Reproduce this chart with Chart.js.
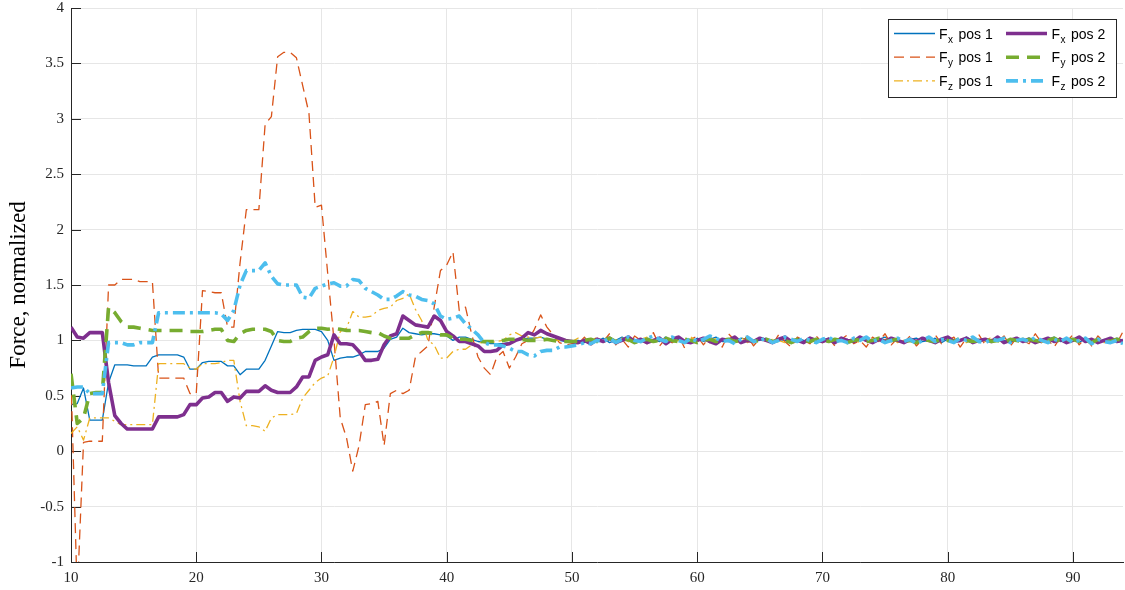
<!DOCTYPE html>
<html>
<head>
<meta charset="utf-8">
<script src="https://cdn.jsdelivr.net/npm/chart.js@4.4.0/dist/chart.umd.min.js"></script>
<style>
  html, body { margin: 0; padding: 0; background: #fff; }
  #wrap { width: 1125px; height: 590px; }
</style>
</head>
<body>
<div id="wrap"><canvas id="forceChart" width="1125" height="590"></canvas></div>
<script>
// Sampling grid (seconds): 10 s to 94 s every 0.5 s
const timeStart = 10;
const timeStep = 0.5;
const sampleCount = 169;
const time = Array.from({ length: sampleCount }, (_, i) => timeStart + i * timeStep);

// Normalized force components, position 1
const fxPos1 = [
  0.42,0.43,0.57,0.28,0.28,0.28,0.62,0.78,0.78,0.78,
  0.77,0.77,0.77,0.85,0.87,0.87,0.87,0.87,0.85,0.74,
  0.74,0.80,0.81,0.81,0.81,0.77,0.77,0.69,0.74,0.74,
  0.74,0.82,0.95,1.08,1.07,1.07,1.09,1.10,1.10,1.10,
  1.08,1.00,0.82,0.84,0.85,0.85,0.87,0.90,0.90,0.90,
  0.93,1.01,1.03,1.11,1.07,1.06,1.05,1.06,1.06,1.05,
  1.04,1.00,1.03,1.03,1.01,0.99,0.98,0.97,0.97,0.97,
  0.98,1.00,1.01,1.02,1.02,1.03,1.01,1.00,1.00,0.99,
  0.99,
  1.00,0.98,1.01,0.99,1.02,0.98,1.00,1.03,0.99,1.01,
  0.98,1.02,1.00,0.99,1.03,0.98,1.01,1.00,0.98,1.02,
  0.99,1.01,1.03,0.99,1.00,0.98,1.02,1.01,0.99,1.00,
  1.02,0.98,1.01,1.00,0.99,1.02,1.00,0.98,1.01,1.00,
  1.02,0.99,1.00,1.01,0.98,1.02,1.00,0.99,1.01,1.03,
  0.99,1.00,0.98,1.01,1.02,0.99,1.00,1.02,0.98,1.01,
  1.00,0.99,1.03,1.00,0.98,1.01,0.99,1.02,1.00,0.98,
  1.01,1.00,1.02,0.99,0.98,1.01,1.03,0.99,1.00,1.01,
  0.98,1.02,1.00,0.99,1.01,0.98,1.02,1.00
];
const fyPos1 = [
  0.65,-1.30,0.08,0.09,0.09,0.09,1.50,1.50,1.55,1.55,
  1.55,1.53,1.53,1.53,0.66,0.66,0.66,0.66,0.66,0.52,
  0.52,1.45,1.44,1.43,1.43,1.12,1.12,1.70,2.18,2.18,
  2.18,2.95,3.02,3.56,3.60,3.60,3.55,3.30,3.05,2.20,
  2.22,1.60,1.00,0.30,0.12,-0.18,0.05,0.42,0.43,0.45,
  0.05,0.52,0.55,0.52,0.55,0.85,0.90,0.95,1.30,1.63,
  1.68,1.80,1.27,1.30,1.05,0.85,0.75,0.69,0.85,0.90,
  0.75,0.85,0.97,1.00,1.10,1.23,1.12,1.05,0.98,0.96,
  0.97,
  0.97,1.03,0.95,1.02,0.99,1.06,0.96,1.01,0.94,1.04,
  1.00,0.97,1.07,0.95,1.02,0.98,1.05,0.93,1.01,1.04,
  0.96,1.03,0.99,0.94,1.06,1.00,0.97,1.04,0.95,1.02,
  1.01,0.96,1.05,0.99,0.94,1.03,1.00,0.97,1.04,0.98,
  1.02,0.95,1.01,1.05,0.97,1.00,0.94,1.03,0.99,1.06,
  0.96,1.02,0.98,1.04,0.95,1.01,0.99,1.05,0.97,1.00,
  1.03,0.94,1.02,0.98,1.05,0.96,1.01,0.99,1.04,0.95,
  1.02,1.00,0.97,1.06,0.98,1.01,0.94,1.03,0.99,1.05,
  0.96,1.02,0.95,1.04,0.98,1.01,0.97,1.08
];
const fzPos1 = [
  0.16,0.22,0.10,0.30,0.30,0.30,0.30,0.27,0.24,0.24,
  0.24,0.24,0.24,0.24,0.79,0.79,0.79,0.79,0.79,0.75,
  0.74,0.79,0.79,0.79,0.80,0.82,0.82,0.45,0.23,0.23,
  0.22,0.18,0.30,0.33,0.33,0.33,0.34,0.48,0.55,0.62,
  0.66,0.68,0.85,1.08,1.11,1.26,1.21,1.21,1.22,1.27,
  1.29,1.30,1.36,1.38,1.42,1.28,1.18,1.00,0.96,0.84,
  0.84,0.90,0.92,0.92,0.96,0.98,0.98,0.98,0.99,1.00,
  1.05,1.07,1.04,1.03,1.02,1.03,1.01,1.00,1.00,0.99,
  0.99,
  1.02,1.00,0.99,1.03,0.98,1.01,1.00,1.02,0.99,0.98,
  1.01,1.03,0.99,1.00,1.02,0.98,1.00,1.01,1.03,0.99,
  1.00,0.98,1.02,1.00,1.01,0.99,1.03,0.98,1.00,1.02,
  0.99,1.01,1.00,0.98,1.02,1.01,0.99,1.03,1.00,0.98,
  1.01,1.00,1.02,0.99,1.01,0.98,1.03,1.00,0.99,1.01,
  1.02,0.98,1.00,1.01,0.99,1.03,1.00,0.98,1.02,0.99,
  1.01,1.00,0.98,1.02,1.01,0.99,1.03,1.00,0.98,1.01,
  0.99,1.02,1.00,1.01,0.98,1.00,1.02,0.99,1.01,1.00,
  1.03,0.99,1.00,1.02,0.98,1.01,1.00,0.99
];

// Normalized force components, position 2
const fxPos2 = [
  1.12,1.03,1.02,1.07,1.07,1.07,0.62,0.32,0.25,0.20,
  0.20,0.20,0.20,0.20,0.31,0.31,0.31,0.31,0.33,0.42,
  0.42,0.48,0.49,0.53,0.53,0.45,0.49,0.48,0.54,0.54,
  0.54,0.59,0.55,0.53,0.53,0.53,0.58,0.67,0.67,0.82,
  0.85,0.87,1.05,0.97,0.97,0.96,0.90,0.82,0.82,0.83,
  0.96,1.04,1.06,1.22,1.18,1.14,1.13,1.12,1.22,1.18,
  1.08,1.04,0.99,0.99,0.97,0.95,0.90,0.90,0.91,0.96,
  0.97,1.00,1.02,1.07,1.05,1.09,1.06,1.04,1.02,1.00,
  0.99,
  0.98,1.00,0.97,1.01,0.99,1.02,0.98,1.00,1.03,0.99,
  1.01,0.98,1.00,1.02,0.97,1.01,1.03,0.99,0.98,1.00,
  1.02,0.99,0.97,1.01,1.00,1.03,0.98,1.00,0.99,1.02,
  1.00,0.98,1.01,1.03,0.99,1.00,0.98,1.02,1.00,0.99,
  1.01,0.98,1.02,1.00,0.99,1.03,1.00,0.98,1.01,0.99,
  1.02,1.00,0.98,1.01,0.99,1.02,1.00,0.98,1.01,1.03,
  0.99,1.00,1.02,0.98,1.00,1.01,0.99,1.03,0.98,1.00,
  1.02,0.99,1.01,0.98,1.00,1.02,0.99,1.01,0.98,1.00,
  1.03,0.99,1.01,0.98,1.00,1.02,0.99,1.00
];
const fyPos2 = [
  0.70,0.25,0.30,0.52,0.53,0.53,1.30,1.25,1.17,1.12,
  1.12,1.11,1.10,1.09,1.09,1.09,1.09,1.09,1.09,1.08,
  1.08,1.08,1.09,1.10,1.10,1.00,0.99,1.06,1.09,1.10,
  1.10,1.10,1.08,1.00,0.99,0.99,1.02,1.03,1.08,1.11,
  1.11,1.10,1.11,1.10,1.09,1.09,1.09,1.08,1.07,1.07,
  1.04,1.02,1.02,1.02,1.02,1.05,1.07,1.07,1.06,1.05,
  1.05,1.02,1.01,1.01,1.00,0.99,0.99,0.99,0.99,1.00,
  1.01,1.01,1.01,1.00,1.00,1.00,1.01,1.00,0.99,0.99,
  0.99,
  0.99,1.00,1.01,0.99,1.00,1.02,0.99,1.00,1.01,0.98,
  1.00,1.01,0.99,1.00,1.02,1.00,0.99,1.01,1.00,0.98,
  1.00,1.01,0.99,1.00,1.01,0.99,1.00,1.02,0.99,1.00,
  1.01,0.99,1.00,1.00,0.98,1.01,1.00,0.99,1.01,1.00,
  0.99,1.01,1.00,0.98,1.00,1.01,0.99,1.00,1.02,0.99,
  1.00,1.01,0.99,1.00,0.98,1.01,1.00,0.99,1.01,1.00,
  0.99,1.02,1.00,0.99,1.00,1.01,0.99,1.00,0.98,1.01,
  1.00,0.99,1.01,1.00,0.99,1.00,1.02,0.99,1.00,1.01,
  0.99,1.00,0.98,1.01,1.00,0.99,1.01,1.00
];
const fzPos2 = [
  0.57,0.58,0.58,0.52,0.52,0.52,0.98,0.98,0.98,0.96,
  0.96,0.98,0.98,0.98,1.25,1.25,1.25,1.25,1.25,1.25,
  1.25,1.25,1.25,1.25,1.24,1.18,1.27,1.50,1.63,1.63,
  1.63,1.70,1.58,1.51,1.50,1.50,1.50,1.39,1.38,1.47,
  1.49,1.51,1.52,1.49,1.49,1.55,1.54,1.47,1.44,1.41,
  1.37,1.37,1.40,1.44,1.41,1.40,1.37,1.36,1.33,1.22,
  1.19,1.20,1.22,1.15,1.10,1.05,0.98,0.96,0.96,0.95,
  0.93,0.90,0.90,0.87,0.86,0.90,0.91,0.91,0.94,0.94,
  0.95,
  0.96,0.98,0.97,1.00,0.99,1.02,0.98,1.01,1.03,1.00,
  0.99,1.02,1.04,1.01,0.99,1.03,1.00,0.98,1.02,0.99,
  1.01,1.04,1.02,0.99,1.00,0.97,1.01,1.03,0.99,1.00,
  1.02,0.98,1.00,1.03,1.01,0.99,1.02,1.00,0.98,1.01,
  1.03,0.99,1.00,0.98,1.02,1.00,1.03,0.99,1.01,0.98,
  1.00,1.02,0.99,1.01,0.97,1.00,1.03,0.99,1.01,1.00,
  0.98,1.02,1.00,1.03,0.99,0.98,1.01,1.00,1.02,0.98,
  1.00,1.01,0.99,1.03,1.00,0.98,1.01,0.99,1.02,0.98,
  1.00,1.02,0.97,1.01,0.99,0.98,1.00,0.97
];

// Axis ranges and ticks
const xRange = [10, 94];
const yRange = [-1, 4];
const xTickStep = 10;
const yTickStep = 0.5;
const yAxisTitle = 'Force, normalized';

// Legend entries: component subscript and position label
const componentNames = ['x', 'y', 'z', 'x', 'y', 'z'];
const positionNames = ['pos 1', 'pos 1', 'pos 1', 'pos 2', 'pos 2', 'pos 2'];
const seriesValues = [fxPos1, fyPos1, fzPos1, fxPos2, fyPos2, fzPos2];

// Line styles for each series
const seriesStyles = [
  { color: '#0072BD', width: 1.3, dash: [] },
  { color: '#D95319', width: 1.3, dash: [10, 6] },
  { color: '#EDB120', width: 1.3, dash: [9, 4, 2, 4] },
  { color: '#7E2F8E', width: 3.6, dash: [] },
  { color: '#77AC30', width: 3.6, dash: [13, 8] },
  { color: '#4DBEEE', width: 3.6, dash: [12, 5, 3, 5] }
];

const datasets = seriesValues.map((vals, i) => ({
  label: 'F' + componentNames[i] + ' ' + positionNames[i],
  data: vals.map((v, k) => ({ x: time[k], y: v })),
  borderColor: seriesStyles[i].color,
  borderWidth: seriesStyles[i].width,
  borderDash: seriesStyles[i].dash,
  borderJoinStyle: 'round',
  borderCapStyle: 'butt',
  pointRadius: 0,
  tension: 0,
  fill: false,
  order: seriesValues.length - i
}));

const axisColor = '#262626';
const gridColor = '#e6e6e6';
const serifFont = '"Liberation Serif", "DejaVu Serif", serif';
const sansFont = '"Liberation Sans", Arial, sans-serif';

// Tick marks pointing into the plot, MATLAB style
const innerTicks = {
  id: 'innerTicks',
  beforeDatasetsDraw(chart) {
    const { ctx, chartArea: a, scales: { x, y } } = chart;
    const len = 10;
    ctx.save();
    ctx.strokeStyle = axisColor;
    ctx.lineWidth = 1;
    x.ticks.forEach(t => {
      const px = Math.round(x.getPixelForValue(t.value)) + 0.5;
      ctx.beginPath(); ctx.moveTo(px, a.bottom); ctx.lineTo(px, a.bottom - len); ctx.stroke();
    });
    y.ticks.forEach(t => {
      const py = Math.round(y.getPixelForValue(t.value)) + 0.5;
      ctx.beginPath(); ctx.moveTo(a.left, py); ctx.lineTo(a.left + len, py); ctx.stroke();
    });
    ctx.restore();
  }
};

// Two-column boxed legend with subscripted component names
const boxedLegend = {
  id: 'boxedLegend',
  afterDraw(chart) {
    const ctx = chart.ctx;
    const box = { x: 888.5, y: 19.5, w: 228, h: 78 };
    ctx.save();
    ctx.fillStyle = '#ffffff';
    ctx.fillRect(box.x, box.y, box.w, box.h);
    ctx.strokeStyle = axisColor;
    ctx.lineWidth = 1;
    ctx.strokeRect(box.x, box.y, box.w, box.h);
    chart.data.datasets.forEach((ds, i) => {
      const col = Math.floor(i / 3);
      const row = i % 3;
      const yc = 33.5 + row * 23.7;
      const x0 = col ? 1006 : 894;
      ctx.strokeStyle = ds.borderColor;
      ctx.lineWidth = ds.borderWidth;
      ctx.setLineDash(ds.borderDash);
      ctx.beginPath(); ctx.moveTo(x0, yc); ctx.lineTo(x0 + 41, yc); ctx.stroke();
      ctx.setLineDash([]);
      const tx = col ? 1051.5 : 939;
      ctx.fillStyle = '#000';
      ctx.textBaseline = 'alphabetic';
      ctx.textAlign = 'left';
      ctx.font = '14px ' + sansFont;
      ctx.fillText('F', tx, yc + 5);
      ctx.font = '10px ' + sansFont;
      ctx.fillText(componentNames[i], tx + 9, yc + 9);
      ctx.font = '14px ' + sansFont;
      ctx.fillText(positionNames[i], tx + 19.5, yc + 5);
    });
    ctx.restore();
  }
};

new Chart(document.getElementById('forceChart'), {
  type: 'line',
  data: { datasets },
  options: {
    responsive: false,
    animation: false,
    devicePixelRatio: 1,
    layout: { padding: { top: 8, right: 2, left: 0, bottom: 0 } },
    plugins: { legend: { display: false }, tooltip: { enabled: false } },
    scales: {
      x: {
        type: 'linear',
        min: xRange[0],
        max: xRange[1],
        afterFit(scale) { scale.height = 28; },
        ticks: {
          stepSize: xTickStep,
          includeBounds: false,
          autoSkip: false,
          maxRotation: 0,
          padding: 7,
          color: axisColor,
          font: { family: serifFont, size: 15 }
        },
        grid: { color: gridColor, lineWidth: 1, drawTicks: false },
        border: { display: true, color: axisColor, width: 1 }
      },
      y: {
        type: 'linear',
        min: yRange[0],
        max: yRange[1],
        afterFit(scale) {
          scale.width = 71;
          scale.paddingTop = 0;
          scale.paddingBottom = 0;
        },
        ticks: {
          stepSize: yTickStep,
          includeBounds: false,
          autoSkip: false,
          padding: 7,
          color: axisColor,
          font: { family: serifFont, size: 15 },
          callback: v => String(Math.round(v * 10) / 10)
        },
        grid: { color: gridColor, lineWidth: 1, drawTicks: false },
        border: { display: true, color: axisColor, width: 1 },
        title: {
          display: true,
          text: yAxisTitle,
          color: '#000',
          font: { family: serifFont, size: 23 },
          padding: { top: 5, bottom: 0 }
        }
      }
    }
  },
  plugins: [innerTicks, boxedLegend]
});
</script>
</body>
</html>
